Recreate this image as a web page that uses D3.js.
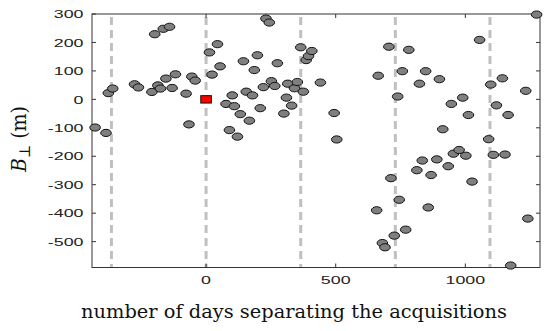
<!DOCTYPE html>
<html>
<head>
<meta charset="utf-8">
<script src="https://cdn.jsdelivr.net/npm/d3@7"></script>
<style>
    body { margin: 0; background: #fff; }
</style>
</head>
<body>
<div id="chart"></div>
<script>
// days separating the two acquisitions / perpendicular baseline in m
const days = [-428, -386, -377, -360, -276, -261, -209, -186, -176, -155, -131, -118, -77, -55, -42, -66,
    -198, -165, -141, 13, 44, 23, 54, 77, 101, 109, 132, 167, 90, 121, 144, 198, 186, 155, 179, 209,
    221, 252, 265, 275, 231, 244, 315, 341, 352, 375, 310, 330, 300, 365, 386, 395, 408, 441, 494, 504,
    664, 658, 1275, 705, 782, 757, 847, 823, 900, 739, 946, 990, 1012, 1055, 1098, 1143, 1233, 1120,
    1165, 913, 1090, 713, 745, 857, 813, 834, 890, 868, 934, 954, 976, 1002, 1026, 1108, 1153, 1241,
    1175, 726, 770, 680, 690];
const baselines = [-99, -118, 22, 38, 53, 42, 26, 49, 38, 73, 40, 88, 20, 80, 66, -88,
    229, 248, 255, 165, 194, 87, 116, -16, 14, -24, -52, -75, -108, -131, 134, 155, 103, 27, 14, -31,
    43, 64, 47, 127, 284, 270, 55, 39, 61, 27, 6, -22, -50, 183, 138, 152, 170, 59, -48, -141,
    83, -390, 298, 185, 174, 99, 99, 55, 71, 10, -16, 6, -55, 209, 52, 74, 30, -21,
    -55, -105, -140, -277, -353, -380, -249, -215, -211, -266, -235, -191, -178, -198, -289, -195, -194, -419,
    -584, -479, -458, -505, -520];

// master acquisition
const refDays = [0];
const refBaselines = [0];

// one-year separations
const yearMarks = [-365, 0, 365, 730, 1095];

const xTicks = [0, 500, 1000];
const yTicks = [300, 200, 100, 0, -100, -200, -300, -400, -500];

const W = 550, H = 331;
const margin = { top: 14, right: 10, bottom: 63.5, left: 92 },
    width = W - margin.left - margin.right,
    height = H - margin.top - margin.bottom;

const stretch = 1.55; // the figure is wider than tall

const svgContainer = d3.select("#chart").append("svg")
    .attr("width", W)
    .attr("height", H);

const svg = svgContainer.append("g")
    .attr("transform", `translate(${margin.left},${margin.top})`);

const x = d3.scaleLinear()
    .domain([-440, 1288])
    .range([0, width]);

const y = d3.scaleLinear()
    .domain([-591, 300])
    .range([height, 0]);

svg.selectAll(".year")
    .data(yearMarks)
    .enter().append("line")
    .attr("class", "year")
    .attr("x1", d => x(d))
    .attr("x2", d => x(d))
    .attr("y1", 3)
    .attr("y2", height)
    .attr("stroke", "#c0c0c0")
    .attr("stroke-width", 3)
    .attr("stroke-dasharray", "8,5");

// box with inward ticks on all four sides
const tickLen = 4;
const axisColor = "#333";

svg.append("rect")
    .attr("width", width)
    .attr("height", height)
    .attr("fill", "none")
    .attr("stroke", axisColor)
    .attr("stroke-width", 1);

xTicks.forEach(t => {
    svg.append("line")
        .attr("x1", x(t)).attr("x2", x(t))
        .attr("y1", height).attr("y2", height - tickLen)
        .attr("stroke", axisColor);
    svg.append("line")
        .attr("x1", x(t)).attr("x2", x(t))
        .attr("y1", 0).attr("y2", tickLen)
        .attr("stroke", axisColor);
    svg.append("text")
        .attr("transform", `translate(${x(t)},${height + 16}) scale(${stretch},1)`)
        .attr("text-anchor", "middle")
        .style("font-family", "'Liberation Sans', Arial, sans-serif")
        .style("font-size", "11.5px")
        .style("fill", "#222")
        .text(t);
});

yTicks.forEach(t => {
    svg.append("line")
        .attr("x1", 0).attr("x2", tickLen)
        .attr("y1", y(t)).attr("y2", y(t))
        .attr("stroke", axisColor);
    svg.append("line")
        .attr("x1", width).attr("x2", width - tickLen)
        .attr("y1", y(t)).attr("y2", y(t))
        .attr("stroke", axisColor);
    svg.append("text")
        .attr("transform", `translate(-8.5,${y(t) + 4.2}) scale(${stretch},1)`)
        .attr("text-anchor", "end")
        .style("font-family", "'Liberation Sans', Arial, sans-serif")
        .style("font-size", "11.5px")
        .style("fill", "#222")
        .text(t);
});

svg.selectAll(".pair")
    .data(days.map((d, i) => ({ day: d, b: baselines[i] })))
    .enter().append("ellipse")
    .attr("class", "pair")
    .attr("cx", d => x(d.day))
    .attr("cy", d => y(d.b))
    .attr("rx", 5.3)
    .attr("ry", 3.6)
    .attr("fill", "#7f7f7f")
    .attr("stroke", "#111")
    .attr("stroke-width", 1);

svg.selectAll(".ref")
    .data(refDays.map((d, i) => ({ day: d, b: refBaselines[i] })))
    .enter().append("rect")
    .attr("class", "ref")
    .attr("x", d => x(d.day) - 5.3)
    .attr("y", d => y(d.b) - 3.7)
    .attr("width", 10.6)
    .attr("height", 7.4)
    .attr("fill", "#ff0000")
    .attr("stroke", "#111")
    .attr("stroke-width", 1);

// axis titles
svgContainer.append("text")
    .attr("x", 81)
    .attr("y", 318)
    .attr("textLength", 426)
    .attr("lengthAdjust", "spacingAndGlyphs")
    .style("font-family", "'DejaVu Serif', 'Liberation Serif', serif")
    .style("font-size", "19px")
    .style("fill", "#111")
    .text("number of days separating the acquisitions");

const yLabel = svgContainer.append("text")
    .attr("transform", `translate(26,139) rotate(-90) scale(1,1.1)`)
    .attr("text-anchor", "middle")
    .style("font-family", "'DejaVu Serif', 'Liberation Serif', serif")
    .style("font-size", "19px")
    .style("fill", "#111");

yLabel.append("tspan")
    .style("font-style", "italic")
    .text("B");
yLabel.append("tspan")
    .attr("dy", 4)
    .style("font-size", "14px")
    .text("⊥");
yLabel.append("tspan")
    .attr("dy", -4)
    .text(" (m)");
</script>
</body>
</html>
